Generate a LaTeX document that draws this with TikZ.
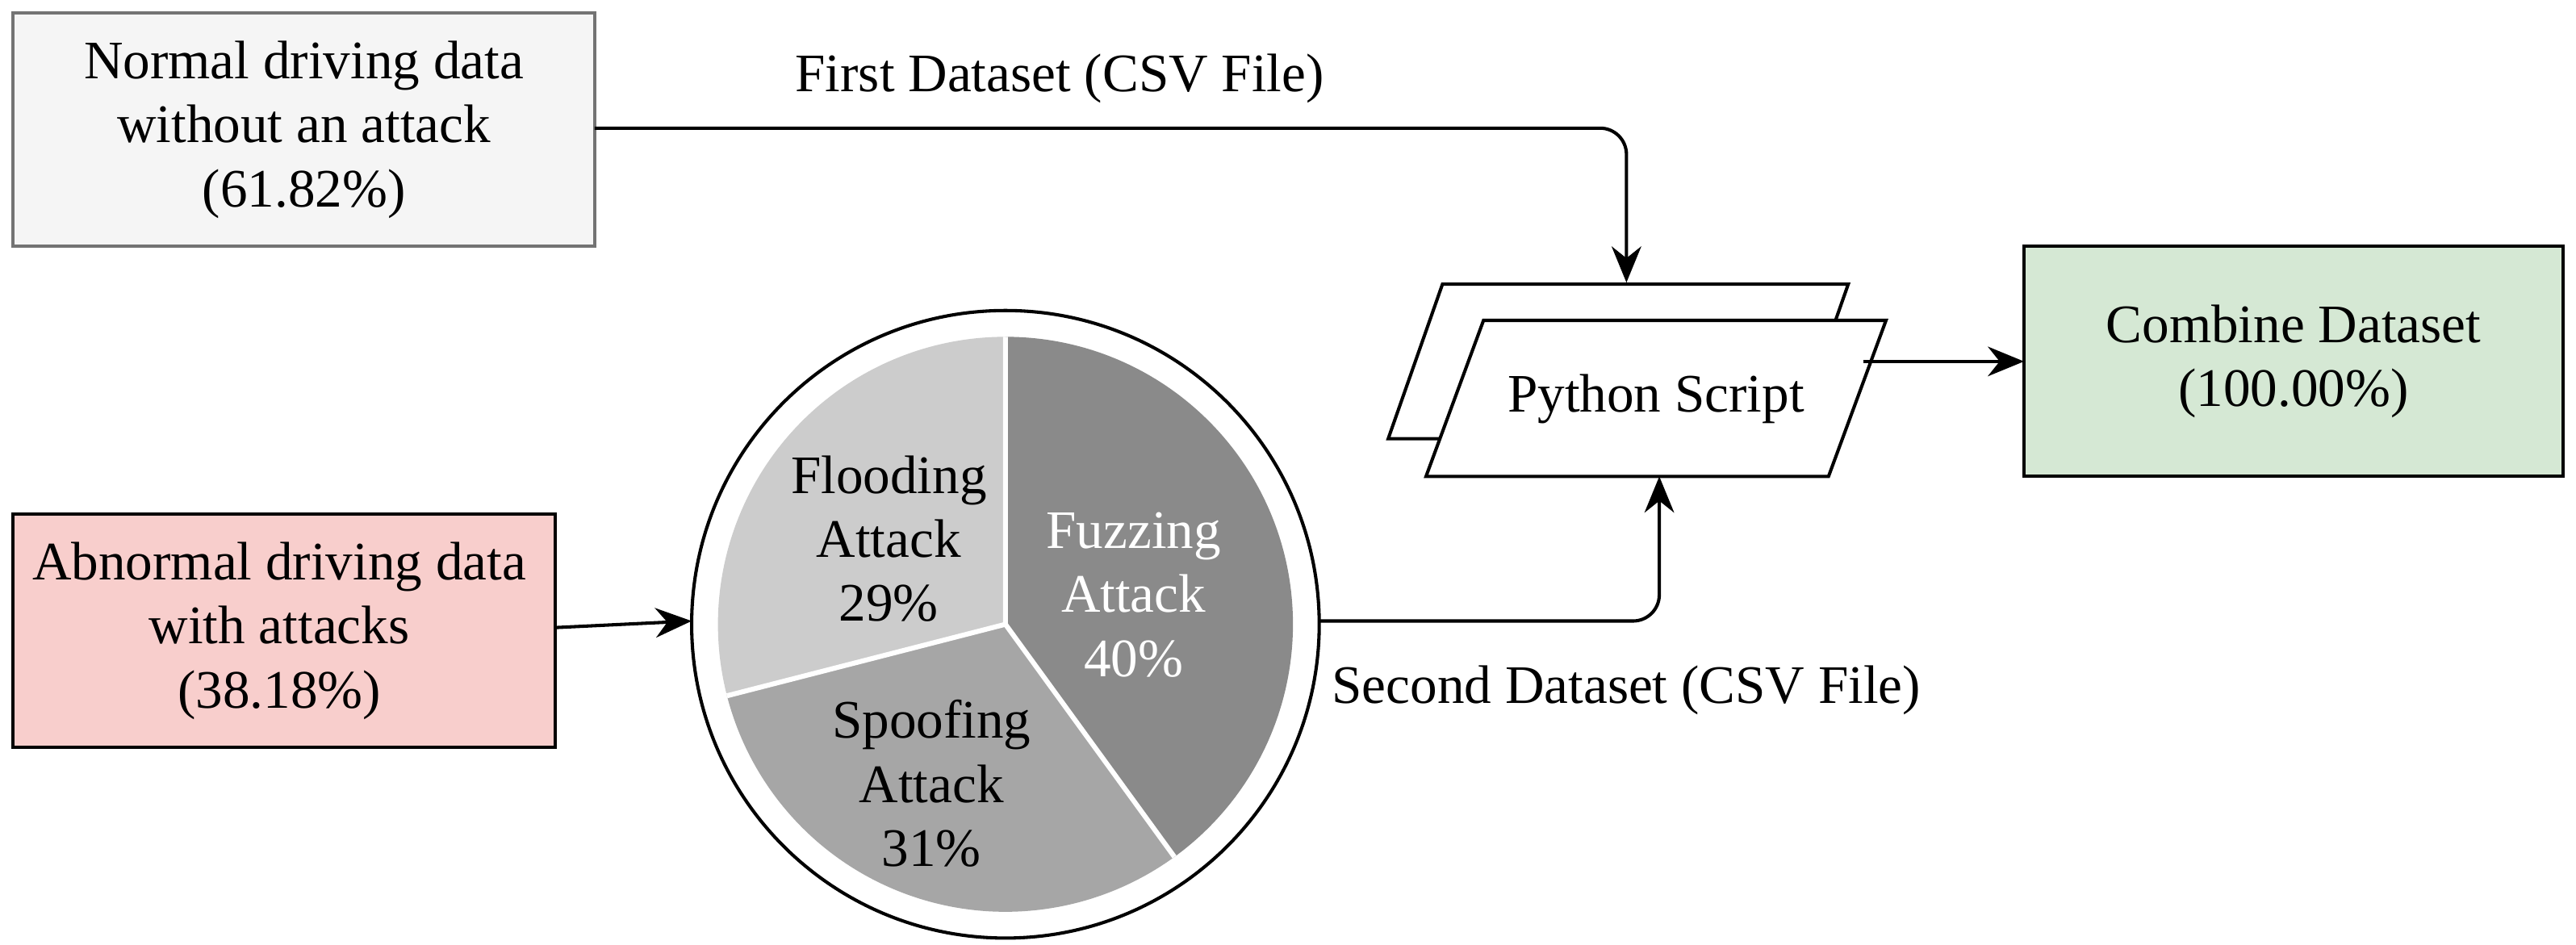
\documentclass[tikz,border=0pt]{standalone}
\usepackage{fontspec}
\setmainfont{Liberation Serif}
\usetikzlibrary{arrows.meta,shapes.geometric}
\begin{document}
\begin{tikzpicture}[x=0.5pt,y=-0.5pt,
  txt/.style={font=\fontsize{16.5}{19.5}\selectfont,align=center},
  arr/.style={line width=1pt,-{Stealth[length=11pt,width=9pt]},rounded corners=8pt}]
\useasboundingbox (0,0) rectangle (1568,575);
% boxes
\draw[fill=black!4,draw=black!55,line width=1pt] (8,8) rectangle (362,150);
\node[txt] (normal) at (185,79) {Normal driving data\\without an attack\\(61.82\%)};
\coordinate (nr) at (362,78);
\draw[fill={rgb,255:red,248;green,206;blue,204},draw=black,line width=1pt] (8,313) rectangle (338,455);
\node[txt] (abn) at (170,384) {Abnormal driving data\\with attacks\\(38.18\%)};
\coordinate (ar) at (338,382);
\draw[fill={rgb,255:red,213;green,232;blue,212},draw=black,line width=1pt] (1232,150) rectangle (1560,290);
\node[txt] (comb) at (1396,220) {Combine Dataset\\(100.00\%)};
\coordinate (cl) at (1232,220);
% pie
\draw[line width=1pt,fill=white] (612,380) circle (191);
\begin{scope}[y=0.5pt]
\fill[fill={rgb,255:red,138;green,138;blue,138}] (612,-380) -- ++(90:175) arc[start angle=90,end angle=-54,radius=175] -- cycle;
\fill[fill={rgb,255:red,166;green,166;blue,166}] (612,-380) -- ++(-54:175) arc[start angle=-54,end angle=-165.6,radius=175] -- cycle;
\fill[fill={rgb,255:red,204;green,204;blue,204}] (612,-380) -- ++(-165.6:175) arc[start angle=-165.6,end angle=-270,radius=175] -- cycle;
\draw[white,line width=1.5pt] (612,-380) -- ++(90:175) (612,-380) -- ++(-54:175) (612,-380) -- ++(-165.6:175);
\end{scope}
\node[txt] (flood) at (541,328) {Flooding\\Attack\\29\%};
\node[txt,text=white] (fuzz) at (690,362) {Fuzzing\\Attack\\40\%};
\node[txt] (spoof) at (567,477) {Spoofing\\Attack\\31\%};
\coordinate (cl2) at (421,378);
\coordinate (cr) at (803,378);
% python
\draw[line width=1pt,fill=white] (845,267) -- (878,173) -- (1125,173) -- (1092,267) -- cycle;
\draw[line width=1pt,fill=white] (868,290) -- (903,195) -- (1148,195) -- (1113,290) -- cycle;
\node[txt] (py) at (1008,243) {Python Script};
% arrows
\draw[arr] (nr) -- (990,78) -- (990,172);
\node[txt] (l1) at (645,48) {First Dataset (CSV File)};
\draw[arr] (ar) -- (cl2);
\draw[arr] (cr) -- (1010,378) -- (1010,290);
\node[txt] (l2) at (990,420) {Second Dataset (CSV File)};
\draw[arr] (1134,220) -- (cl);
\end{tikzpicture}
\end{document}
